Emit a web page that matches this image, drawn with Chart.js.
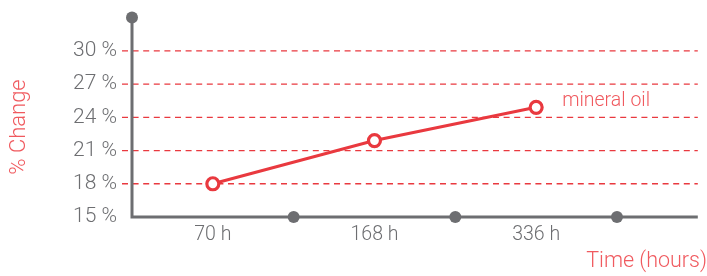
<!DOCTYPE html>
<html lang="en">
  <head>
    <meta charset="UTF-8" />
    <title>% Change over time</title>
    <script src="https://cdn.jsdelivr.net/npm/chart.js"></script>
    <style>
      html, body { margin: 0; padding: 0; background: #ffffff; }
      .graph { width: 707px; height: 276px; }
    </style>
  </head>
  <body>
    <div class="graph">
      <canvas id="myChart" width="707" height="276"></canvas>
    </div>

<script>
  // dados
  var categorias = ["70 h", "168 h", "336 h"];
  var mineralOil = [18.0, 21.9, 24.9];
  var ticksY = [15, 18, 21, 24, 27, 30];
  var serieNome = "mineral oil";

  var cinza = "#6d6e71";
  var vermelho = "#e9393f";
  var vermelhoClaro = "#f05a5f";
  var fonte = "Roboto";

  // pontos no meio de cada coluna
  var pontos = [];
  for (var i = 0; i < mineralOil.length; i++) {
    pontos.push({ x: i + 0.5, y: mineralOil[i] });
  }

  // grade tracejada, eixos, bolinhas e textos
  const eixosPlugin = {
    id: "eixos",
    beforeDatasetsDraw(chart) {
      const ctx = chart.ctx;
      const a = chart.chartArea;
      const sx = chart.scales.x;
      const sy = chart.scales.y;
      ctx.save();
      // linhas de grade (a de 15 % fica sob o eixo)
      ctx.strokeStyle = vermelho;
      ctx.lineWidth = 1.3;
      ctx.setLineDash([6, 4.6]);
      for (var j = 0; j < ticksY.length; j++) {
        if (ticksY[j] <= 15) continue;
        var py = sy.getPixelForValue(ticksY[j]);
        ctx.beginPath();
        ctx.moveTo(a.left - 10, py);
        ctx.lineTo(a.right, py);
        ctx.stroke();
      }
      ctx.setLineDash([]);
      // eixos
      ctx.strokeStyle = cinza;
      ctx.lineWidth = 3;
      ctx.beginPath();
      ctx.moveTo(a.left, a.top);
      ctx.lineTo(a.left, a.bottom);
      ctx.lineTo(a.right, a.bottom);
      ctx.stroke();
      ctx.fillStyle = cinza;
      ctx.beginPath();
      ctx.arc(a.left, a.top, 6, 0, Math.PI * 2);
      ctx.fill();
      for (var k = 1; k <= categorias.length; k++) {
        ctx.beginPath();
        ctx.arc(sx.getPixelForValue(k), a.bottom, 6, 0, Math.PI * 2);
        ctx.fill();
      }
      ctx.restore();
    },
    afterDraw(chart) {
      const ctx = chart.ctx;
      ctx.save();
      ctx.fillStyle = vermelhoClaro;
      ctx.font = "300 22px " + fonte;
      // titulo eixo y
      ctx.save();
      ctx.translate(19, 127);
      ctx.rotate(-Math.PI / 2);
      ctx.textAlign = "center";
      ctx.textBaseline = "middle";
      ctx.fillText("% Change", 0, 0);
      ctx.restore();
      // titulo eixo x
      ctx.font = "300 21.5px " + fonte;
      ctx.textAlign = "right";
      ctx.textBaseline = "middle";
      ctx.fillText("Time (hours)", 707, 262);
      // nome da serie junto ao ultimo ponto
      const meta = chart.getDatasetMeta(0);
      const ult = meta.data[meta.data.length - 1];
      ctx.font = "300 19.5px " + fonte;
      ctx.textAlign = "left";
      ctx.fillText(serieNome, ult.x + 26, ult.y - 6);
      ctx.restore();
    }
  };

  const ctx = document.getElementById("myChart");
  new Chart(ctx, {
    type: "line",
    data: {
      datasets: [
        {
          label: serieNome,
          data: pontos,
          borderColor: vermelho,
          borderWidth: 3,
          pointRadius: 6,
          pointBorderWidth: 3.2,
          pointBackgroundColor: "#ffffff",
          pointBorderColor: vermelho,
          tension: 0,
        },
      ],
    },
    options: {
      responsive: false,
      animation: false,
      layout: { padding: { top: 15, right: 9, left: 0, bottom: 0 } },
      plugins: {
        legend: { display: false },
        tooltip: { enabled: false },
      },
      scales: {
        x: {
          type: "linear",
          min: 0,
          max: 3.5,
          grid: { display: false, drawTicks: false },
          border: { display: false },
          afterBuildTicks: function (s) {
            s.ticks = categorias.map(function (c, i) { return { value: i + 0.5 }; });
          },
          afterFit: function (s) { s.height = 59; },
          ticks: {
            color: cinza,
            font: { family: fonte, size: 19.5, weight: 300 },
            padding: 6,
            maxRotation: 0,
            callback: function (v, i) { return categorias[i]; },
          },
        },
        y: {
          min: 15,
          max: 33,
          afterBuildTicks: function (s) {
            s.ticks = ticksY.map(function (v) { return { value: v }; });
          },
          afterFit: function (s) { s.width = 132; },
          grid: {
            color: "rgba(0,0,0,0)",
            tickColor: "rgba(0,0,0,0)",
            tickLength: 10,
          },
          border: { display: false },
          ticks: {
            color: cinza,
            font: { family: fonte, size: 21, weight: 300 },
            padding: 5,
            callback: function (v) { return v + " %"; },
          },
        },
      },
    },
    plugins: [eixosPlugin],
  });
</script>
  </body>
</html>
